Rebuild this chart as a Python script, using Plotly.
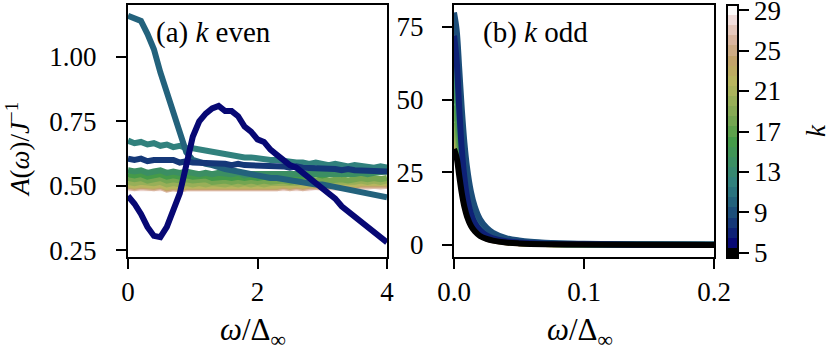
import numpy as np
import plotly.graph_objects as go

# ---- data ----
omega_a = [0.0, 0.1, 0.2, 0.3, 0.4, 0.5, 0.6, 0.7, 0.8, 0.9,
           1.0, 1.1, 1.2, 1.3, 1.4, 1.5, 1.6, 1.7, 1.8, 1.9,
           2.0, 2.1, 2.2, 2.3, 2.4, 2.5, 2.6, 2.7, 2.8, 2.9,
           3.0, 3.1, 3.2, 3.3, 3.4, 3.5, 3.6, 3.7, 3.8, 3.9, 4.0]

A_even = {
    6: [0.46, 0.43, 0.39, 0.34, 0.305, 0.30, 0.34, 0.41, 0.47, 0.58,
        0.69, 0.75, 0.78, 0.80, 0.81, 0.79, 0.79, 0.77, 0.73, 0.71,
        0.68, 0.67, 0.64, 0.62, 0.60, 0.58, 0.57, 0.55, 0.53, 0.51,
        0.49, 0.47, 0.45, 0.42, 0.40, 0.38, 0.36, 0.34, 0.32, 0.30, 0.28],
    8: [0.605, 0.60, 0.605, 0.595, 0.60, 0.60, 0.595, 0.60, 0.59, 0.595,
        0.59, 0.59, 0.585, 0.59, 0.585, 0.585, 0.58, 0.585, 0.58, 0.58,
        0.58, 0.575, 0.58, 0.575, 0.575, 0.57, 0.575, 0.57, 0.57, 0.565,
        0.57, 0.565, 0.565, 0.56, 0.565, 0.56, 0.56, 0.555, 0.56, 0.555, 0.555],
    10: [1.16, 1.15, 1.14, 1.09, 1.03, 0.94, 0.86, 0.78, 0.70, 0.63,
         0.60, 0.59, 0.585, 0.58, 0.57, 0.565, 0.56, 0.555, 0.55, 0.545,
         0.535, 0.535, 0.53, 0.53, 0.525, 0.52, 0.52, 0.515, 0.51, 0.505,
         0.505, 0.50, 0.495, 0.49, 0.485, 0.475, 0.47, 0.465, 0.465, 0.46, 0.455],
    12: [0.675, 0.665, 0.67, 0.66, 0.665, 0.655, 0.66, 0.65, 0.655, 0.645,
         0.645, 0.64, 0.635, 0.63, 0.625, 0.62, 0.62, 0.615, 0.61, 0.61,
         0.605, 0.60, 0.60, 0.60, 0.595, 0.595, 0.59, 0.59, 0.585, 0.59,
         0.585, 0.58, 0.585, 0.58, 0.575, 0.58, 0.575, 0.575, 0.57, 0.575, 0.57],
    14: [0.56, 0.555, 0.56, 0.55, 0.555, 0.56, 0.55, 0.555, 0.55, 0.555,
         0.55, 0.545, 0.55, 0.545, 0.55, 0.545, 0.545, 0.55, 0.54, 0.545,
         0.545, 0.54, 0.545, 0.54, 0.545, 0.54, 0.54, 0.545, 0.54, 0.545,
         0.54, 0.54, 0.545, 0.54, 0.545, 0.545, 0.55, 0.545, 0.55, 0.55, 0.555],
    16: [0.545, 0.54, 0.545, 0.535, 0.54, 0.545, 0.535, 0.54, 0.535, 0.54,
         0.535, 0.535, 0.54, 0.53, 0.535, 0.535, 0.53, 0.535, 0.53, 0.535,
         0.53, 0.535, 0.53, 0.535, 0.535, 0.54, 0.535, 0.54, 0.54, 0.545,
         0.54, 0.545, 0.55, 0.545, 0.55, 0.555, 0.55, 0.56, 0.56, 0.565, 0.57],
    18: [0.53, 0.525, 0.53, 0.52, 0.525, 0.53, 0.52, 0.525, 0.52, 0.525,
         0.52, 0.52, 0.525, 0.515, 0.52, 0.52, 0.515, 0.52, 0.515, 0.52,
         0.515, 0.52, 0.515, 0.52, 0.52, 0.515, 0.52, 0.52, 0.525, 0.52,
         0.525, 0.52, 0.525, 0.525, 0.52, 0.525, 0.53, 0.525, 0.53, 0.525, 0.53],
    20: [0.515, 0.51, 0.515, 0.51, 0.51, 0.515, 0.505, 0.51, 0.505, 0.51,
         0.505, 0.51, 0.505, 0.51, 0.505, 0.505, 0.51, 0.505, 0.51, 0.505,
         0.51, 0.505, 0.51, 0.51, 0.505, 0.51, 0.51, 0.515, 0.51, 0.515,
         0.51, 0.515, 0.515, 0.51, 0.515, 0.515, 0.52, 0.515, 0.52, 0.515, 0.52],
    22: [0.505, 0.50, 0.505, 0.50, 0.50, 0.505, 0.495, 0.50, 0.495, 0.50,
         0.50, 0.495, 0.50, 0.495, 0.50, 0.495, 0.50, 0.50, 0.495, 0.50,
         0.50, 0.495, 0.50, 0.50, 0.505, 0.50, 0.505, 0.50, 0.505, 0.505,
         0.50, 0.505, 0.51, 0.505, 0.51, 0.505, 0.51, 0.51, 0.505, 0.51, 0.51],
    24: [0.50, 0.495, 0.50, 0.495, 0.495, 0.50, 0.49, 0.495, 0.49, 0.495,
         0.495, 0.49, 0.495, 0.49, 0.495, 0.49, 0.495, 0.495, 0.49, 0.495,
         0.495, 0.49, 0.495, 0.495, 0.50, 0.495, 0.50, 0.495, 0.50, 0.50,
         0.495, 0.50, 0.505, 0.50, 0.505, 0.50, 0.505, 0.505, 0.50, 0.505, 0.505],
    26: [0.495, 0.49, 0.495, 0.49, 0.49, 0.495, 0.485, 0.49, 0.485, 0.49,
         0.49, 0.485, 0.49, 0.485, 0.49, 0.485, 0.49, 0.49, 0.485, 0.49,
         0.49, 0.485, 0.49, 0.49, 0.495, 0.49, 0.495, 0.49, 0.495, 0.495,
         0.49, 0.495, 0.50, 0.495, 0.50, 0.495, 0.50, 0.50, 0.495, 0.50, 0.50],
    28: [0.49, 0.49, 0.485, 0.49, 0.485, 0.49, 0.485, 0.485, 0.49, 0.485,
         0.485, 0.49, 0.485, 0.49, 0.485, 0.49, 0.485, 0.485, 0.49, 0.485,
         0.49, 0.485, 0.49, 0.485, 0.49, 0.49, 0.485, 0.49, 0.49, 0.495,
         0.49, 0.495, 0.49, 0.495, 0.495, 0.49, 0.495, 0.495, 0.50, 0.495, 0.50],
}

omega_b = [0.0, 0.002, 0.004, 0.006, 0.008, 0.010, 0.013, 0.016, 0.020,
           0.025, 0.030, 0.040, 0.050, 0.070, 0.100, 0.140, 0.200]

A_odd = {
    5: [33, 30.1, 23.9, 17.8, 13.1, 9.8, 6.6, 4.7, 3.1, 2.1, 1.5, 0.85, 0.55, 0.28, 0.14, 0.07, 0.03],
    7: [72, 63.6, 47.1, 32.9, 23.2, 16.7, 10.9, 7.6, 5.1, 3.3, 2.3, 1.3, 0.9, 0.44, 0.22, 0.11, 0.05],
    9: [80, 74.1, 60.8, 46.7, 35.2, 26.8, 18.4, 13.2, 8.9, 6.0, 4.2, 2.4, 1.6, 0.8, 0.4, 0.2, 0.1],
    11: [70, 63.9, 50.8, 37.8, 27.9, 20.8, 14.0, 9.9, 6.7, 4.4, 3.1, 1.8, 1.2, 0.6, 0.3, 0.15, 0.07],
    13: [62, 56.6, 45.0, 33.5, 24.7, 18.4, 12.4, 8.8, 5.9, 3.9, 2.8, 1.6, 1.05, 0.53, 0.26, 0.14, 0.06],
    15: [55, 50.2, 39.9, 29.7, 21.9, 16.3, 11.0, 7.8, 5.2, 3.5, 2.5, 1.4, 0.94, 0.47, 0.23, 0.12, 0.06],
    17: [48, 43.8, 34.8, 25.9, 19.1, 14.3, 9.6, 6.8, 4.6, 3.0, 2.2, 1.25, 0.82, 0.41, 0.2, 0.1, 0.05],
    19: [42, 38.3, 30.5, 22.7, 16.7, 12.5, 8.4, 6.0, 4.0, 2.6, 1.9, 1.1, 0.71, 0.36, 0.18, 0.09, 0.04],
    21: [40, 36.5, 29.0, 21.6, 15.9, 11.9, 8.0, 5.7, 3.8, 2.5, 1.8, 1.04, 0.68, 0.34, 0.17, 0.09, 0.04],
    23: [37, 33.8, 26.8, 20.0, 14.7, 11.0, 7.4, 5.3, 3.5, 2.3, 1.7, 0.96, 0.63, 0.31, 0.16, 0.08, 0.04],
    25: [36, 32.9, 26.1, 19.4, 14.3, 10.7, 7.2, 5.1, 3.4, 2.3, 1.6, 0.94, 0.61, 0.31, 0.15, 0.08, 0.04],
    27: [35, 32.0, 25.4, 18.9, 13.9, 10.4, 7.0, 5.0, 3.3, 2.2, 1.6, 0.91, 0.6, 0.3, 0.15, 0.08, 0.04],
    29: [34.5, 31.5, 25.0, 18.6, 13.7, 10.2, 6.9, 4.9, 3.3, 2.2, 1.55, 0.9, 0.59, 0.29, 0.14, 0.08, 0.03],
}

k_ticks = [5, 9, 13, 17, 21, 25, 29]
k_min, k_max = 5, 29

# ---- gist_earth colormap (matplotlib segment data) ----
_red = [(0.0, 0.0), (0.2824, 0.1882), (0.4588, 0.2714), (0.5490, 0.4719),
        (0.6980, 0.7176), (0.7882, 0.7553), (1.0, 0.9922)]
_green = [(0.0, 0.0), (0.0275, 0.0), (0.1098, 0.1893), (0.1647, 0.3035),
          (0.2078, 0.3841), (0.2824, 0.5020), (0.5216, 0.6397), (0.6980, 0.7171),
          (0.7882, 0.6392), (0.7922, 0.6413), (0.8000, 0.6447), (0.8078, 0.6481),
          (0.8157, 0.6549), (0.8667, 0.6991), (0.8745, 0.7103), (0.8824, 0.7216),
          (0.8902, 0.7323), (0.8980, 0.7430), (0.9412, 0.8275), (0.9569, 0.8635),
          (0.9647, 0.8816), (0.9961, 0.9733), (1.0, 0.9843)]
_blue = [(0.0, 0.0), (0.0039, 0.1684), (0.0078, 0.2212), (0.0275, 0.4329),
         (0.0314, 0.4549), (0.2824, 0.5004), (0.4667, 0.2748), (0.5451, 0.3205),
         (0.7843, 0.3961), (0.8941, 0.6651), (1.0, 0.9843)]


def gist_earth(v):
    out = []
    for seg in (_red, _green, _blue):
        xs, ys = zip(*seg)
        out.append(int(round(255 * np.interp(v, xs, ys))))
    return "rgb(%d,%d,%d)" % tuple(out)


def kcolor(k):
    return gist_earth((k - k_min) / (k_max - k_min))


W, H = 830, 354


def px_x(p):
    return p / W


def px_y(p):
    return 1 - p / H


fig = go.Figure()

# higher k first so low k ends on top
for k in sorted(A_even, reverse=True):
    fig.add_trace(go.Scatter(x=omega_a, y=A_even[k], mode="lines",
                             line=dict(color=kcolor(k), width=6),
                             xaxis="x", yaxis="y", showlegend=False))

for k in sorted(A_odd, reverse=True):
    fig.add_trace(go.Scatter(x=omega_b, y=A_odd[k], mode="lines",
                             line=dict(color=kcolor(k), width=6, shape="spline"),
                             xaxis="x2", yaxis="y2", showlegend=False))

# discrete colorbar, one band per k
ks = list(range(k_min, k_max + 1))
nb = len(ks)
cscale = []
for i, k in enumerate(ks):
    c = kcolor(k)
    cscale.append([i / nb, c])
    cscale.append([(i + 1) / nb, c])

font = dict(family="Liberation Serif, serif", size=27, color="black")

fig.add_trace(go.Scatter(
    x=[None], y=[None], mode="markers", xaxis="x2", yaxis="y2", showlegend=False,
    marker=dict(color=[k_min], cmin=k_min - 0.5, cmax=k_max + 0.5,
                colorscale=cscale, showscale=True,
                colorbar=dict(x=px_x(727), xanchor="left", xpad=0, ypad=0,
                              y=px_y(258), yanchor="bottom", len=253 / H,
                              lenmode="fraction", thickness=11,
                              outlinewidth=2, outlinecolor="black",
                              tickvals=k_ticks, tickprefix="\u2002",
                              ticklabeloverflow="allow",
                              ticks="outside", ticklen=10,
                              tickwidth=2, tickcolor="black", tickfont=font))))

ax_common = dict(showline=True, linewidth=2, linecolor="black", mirror=True,
                 showgrid=False, zeroline=False, ticks="outside", ticklen=10,
                 tickwidth=2, tickcolor="black", tickfont=font)

fig.update_layout(
    width=W, height=H,
    margin=dict(l=0, r=0, t=0, b=0, autoexpand=False),
    paper_bgcolor="white", plot_bgcolor="white", font=font,
    xaxis=dict(domain=[px_x(128), px_x(387)], range=[0, 4], tickvals=[0, 2, 4],
               anchor="y", **ax_common),
    yaxis=dict(domain=[px_y(257), px_y(5)], range=[0.223, 1.202],
               tickvals=[0.25, 0.5, 0.75, 1.0],
               ticktext=["0.25", "0.50", "0.75", "1.00"], anchor="x",
               ticklabelstandoff=14, **ax_common),
    xaxis2=dict(domain=[px_x(454), px_x(714)], range=[0, 0.2],
                tickvals=[0, 0.1, 0.2], ticktext=["0.0", "0.1", "0.2"],
                anchor="y2", **ax_common),
    yaxis2=dict(domain=[px_y(257), px_y(5)], range=[-4.13, 82.57],
                tickvals=[0, 25, 50, 75], anchor="x2",
                ticklabelstandoff=13, **ax_common),
)

ann = [
    dict(text="(a) <i>k</i> even", x=px_x(154), y=px_y(32), xanchor="left", size=29),
    dict(text="(b) <i>k</i> odd", x=px_x(481), y=px_y(32), xanchor="left", size=29),
    dict(text="<i>ω</i>/Δ<sub>∞</sub>", x=px_x(253), y=px_y(332), size=31),
    dict(text="<i>ω</i>/Δ<sub>∞</sub>", x=px_x(580), y=px_y(332), size=31),
    dict(text="<i>A</i>(<i>ω</i>)/<i>J</i><sup>−1</sup>", x=px_x(18), y=px_y(150),
         textangle=-90),
    dict(text="<i>k</i>", x=px_x(816), y=px_y(131), textangle=-90),
]
for a in ann:
    f = dict(font, size=a.pop("size", 27))
    fig.add_annotation(xref="paper", yref="paper", showarrow=False, font=f,
                       xanchor=a.pop("xanchor", "center"), yanchor="middle", **a)

# drop the browser's default page margin so the figure sits at the corner
fig.write_html("out.html", config={"displayModeBar": False},
               post_script="document.body.style.margin='0px';")
